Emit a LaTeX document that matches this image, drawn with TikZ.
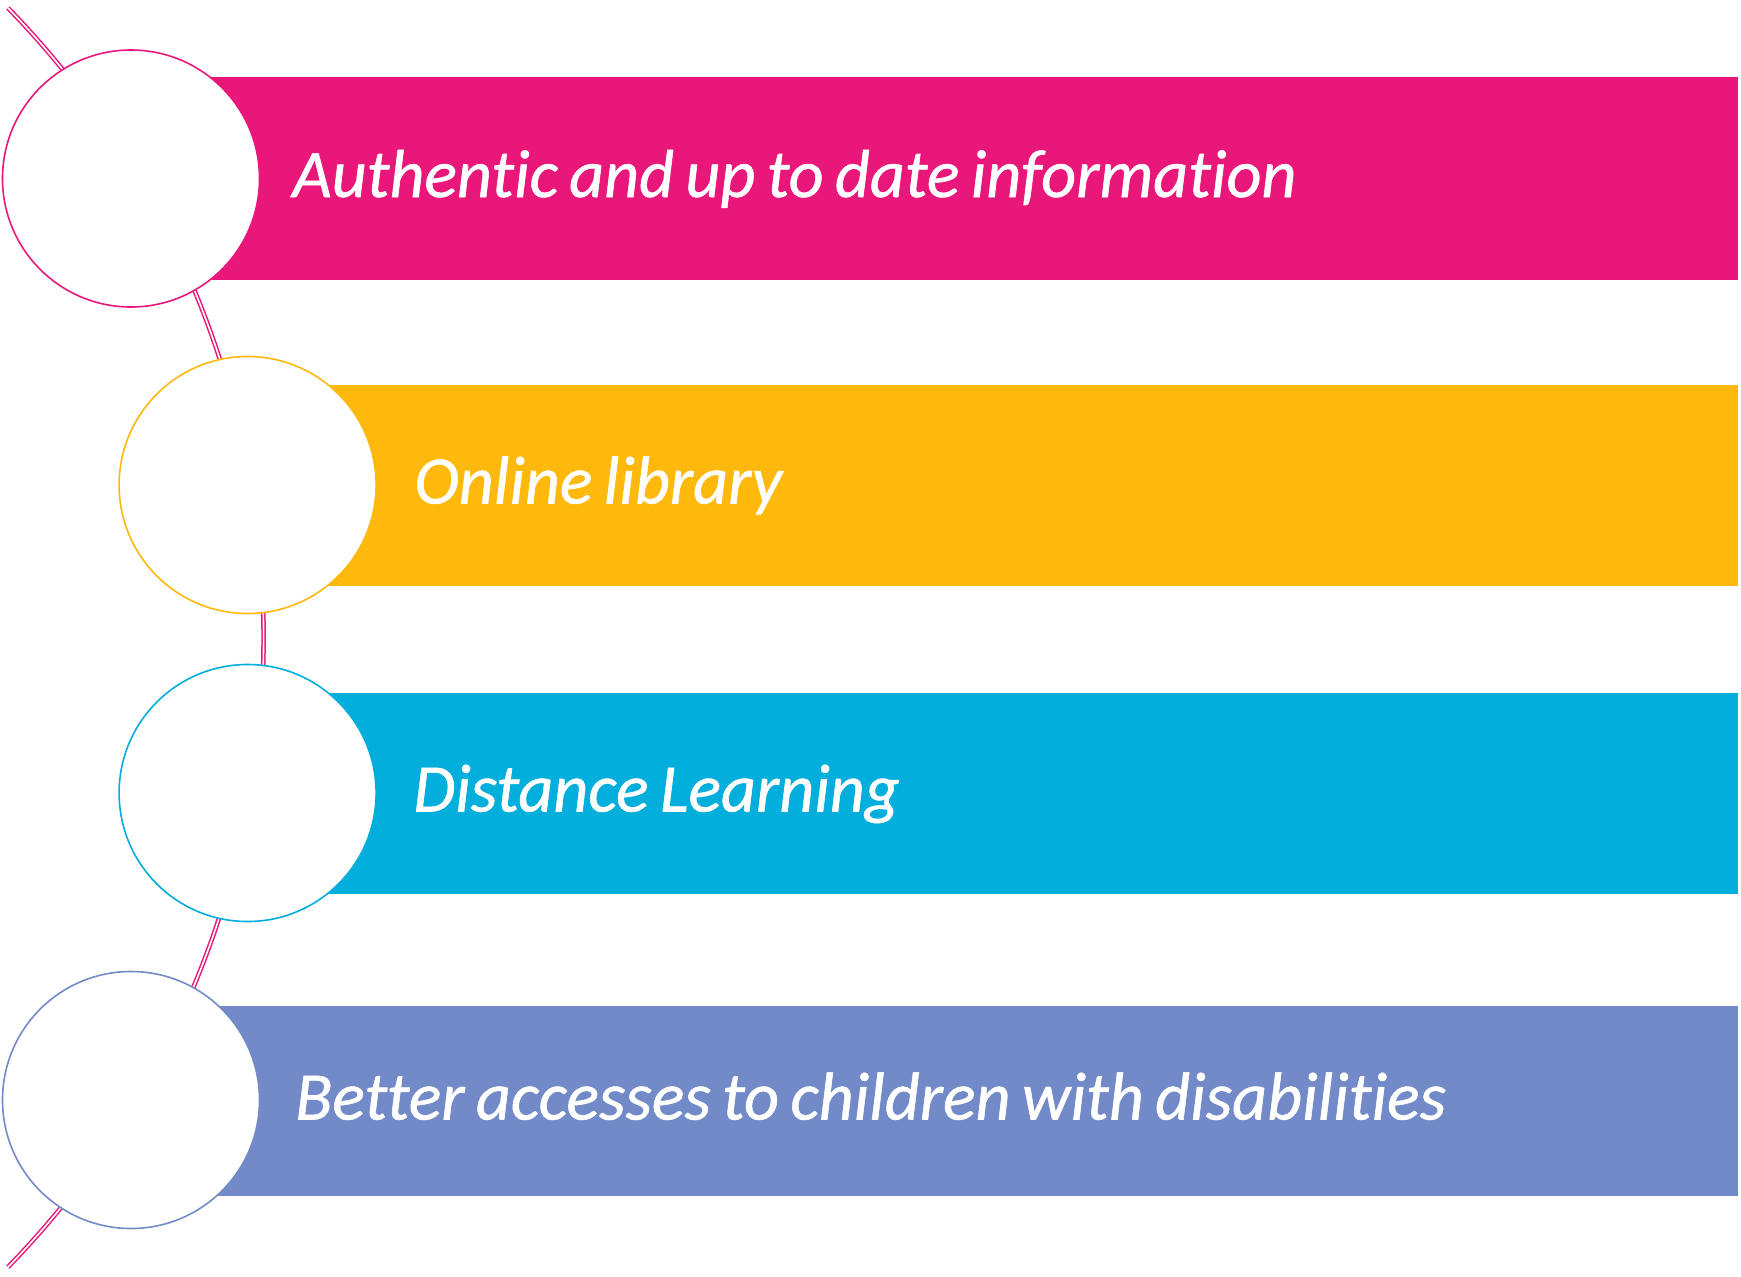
\documentclass[tikz,border=0pt]{standalone}
\usepackage{fontspec}
\setmainfont[Ligatures=NoCommon]{Carlito}
\newfontfamily\itemfont[Ligatures=NoCommon, FakeBold=0.8, WordSpace=0.74]{Carlito}
\definecolor{pinkc}{HTML}{E9177A}
\definecolor{yellowc}{HTML}{FFB80C}
\definecolor{bluec}{HTML}{02AEDC}
\definecolor{purplec}{HTML}{728AC7}

\begin{document}
\begin{tikzpicture}[x=0.5pt, y=-0.5pt,
    bubble/.style={circle, fill=white, draw=#1, line width=0.8pt, minimum size=128.5pt, inner sep=0pt},
    itemtext/.style={anchor=base west, inner sep=0pt, text=white, font=\itemfont\fontsize{34}{40}\selectfont\itshape}]
\useasboundingbox (0,0) rectangle (1741,1276);

% Arc behind the circles
\coordinate (arctop) at (8,8);
\draw[pinkc, line width=0.75pt, double=white, double distance=0.8pt]
    (arctop) arc[start angle=-44.2, end angle=44.2, radius=903];

% Bars
\fill[pinkc] (131,77) rectangle (1738,280);
\fill[yellowc] (247.6,385) rectangle (1738,586);
\fill[bluec] (247.6,693) rectangle (1738,894);
\fill[purplec] (131,1006) rectangle (1738,1196);

% Circles
\node[bubble=pinkc] (c1) at (131,178.5) {};
\node[bubble=yellowc] (c2) at (247.6,485) {};
\node[bubble=bluec] (c3) at (247.6,793) {};
\node[bubble=purplec] (c4) at (131,1100) {};

% Labels
\node[itemtext] (t1) at (292,197) {Authentic and up to date information};
\node[itemtext] (t2) at (414,503.5) {Online library};
\node[itemtext] (t3) at (413,811.5) {Distance Learning};
\node[itemtext] (t4) at (295,1119.5) {Better accesses to children with disabilities};
\end{tikzpicture}
\end{document}
